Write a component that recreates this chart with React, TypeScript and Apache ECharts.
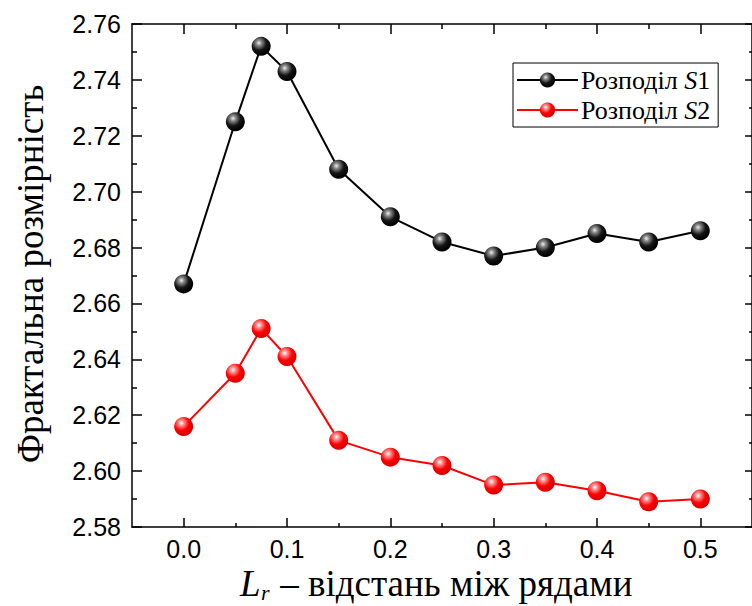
import React, { useEffect, useRef } from "react";
import * as echarts from "echarts";

const xValues = [0, 0.05, 0.075, 0.1, 0.15, 0.2, 0.25, 0.3, 0.35, 0.4, 0.45, 0.5];
const s1Values = [2.667, 2.725, 2.752, 2.743, 2.708, 2.691, 2.682, 2.677, 2.680, 2.685, 2.682, 2.686];
const s2Values = [2.616, 2.635, 2.651, 2.641, 2.611, 2.605, 2.602, 2.595, 2.596, 2.593, 2.589, 2.590];
const xMajorTicks = [0, 0.1, 0.2, 0.3, 0.4, 0.5];
const xMinorTicks = [0.05, 0.15, 0.25, 0.35, 0.45];
const seriesNames = ["Розподіл S1", "Розподіл S2"];

const SERIF = '"Liberation Serif", "Times New Roman", serif';
const SANS = '"Liberation Sans", Arial, sans-serif';

export default function App() {
  const ref = useRef<HTMLDivElement>(null);
  useEffect(() => {
    if (!ref.current) return;
    const chart = echarts.init(ref.current, undefined, { renderer: "svg" });
    const blackBall = new echarts.graphic.RadialGradient(0.38, 0.32, 0.65, [
      { offset: 0, color: "#f0f0f0" },
      { offset: 0.22, color: "#8a8a8a" },
      { offset: 0.6, color: "#151515" },
      { offset: 1, color: "#000000" },
    ]);
    const redBall = new echarts.graphic.RadialGradient(0.38, 0.32, 0.65, [
      { offset: 0, color: "#ffffff" },
      { offset: 0.22, color: "#ff9090" },
      { offset: 0.6, color: "#ff0000" },
      { offset: 1, color: "#d80000" },
    ]);
    const baseX = {
      type: "value" as const,
      min: -0.05,
      max: 0.55,
      splitLine: { show: false },
    };
    const axisLine = { show: true, onZero: false, lineStyle: { color: "#000", width: 1.5 } };
    chart.setOption({
      animation: false,
      grid: { left: 132, top: 24, right: -3, bottom: 79, containLabel: false },
      xAxis: [
        {
          ...baseX,
          position: "bottom",
          axisLine,
          axisTick: { show: true, inside: true, length: 9, customValues: xMajorTicks, lineStyle: { color: "#000", width: 1.5 } },
          axisLabel: {
            customValues: xMajorTicks,
            margin: 9,
            fontFamily: SANS,
            fontSize: 25,
            color: "#000",
            formatter: (v: number) => v.toFixed(1),
          },
        },
        {
          ...baseX,
          position: "bottom",
          axisLine: { show: false },
          axisTick: { show: true, inside: true, length: 4, customValues: xMinorTicks, lineStyle: { color: "#000", width: 1.5 } },
          axisLabel: { show: false },
        },
        {
          ...baseX,
          position: "top",
          axisLine,
          axisTick: { show: true, inside: true, length: 10, customValues: xMajorTicks, lineStyle: { color: "#000", width: 1.5 } },
          axisLabel: { show: false },
        },
        {
          ...baseX,
          position: "top",
          axisLine: { show: false },
          axisTick: { show: true, inside: true, length: 5, customValues: xMinorTicks, lineStyle: { color: "#000", width: 1.5 } },
          axisLabel: { show: false },
        },
      ],
      yAxis: [
        {
          type: "value",
          position: "left",
          min: 2.58,
          max: 2.76,
          interval: 0.02,
          splitLine: { show: false },
          axisLine,
          axisTick: { show: true, inside: true, length: 10, lineStyle: { color: "#000", width: 1.5 } },
          minorTick: { show: true, splitNumber: 2, length: 5, lineStyle: { color: "#000", width: 1.5 } },
          minorSplitLine: { show: false },
          axisLabel: {
            margin: 11,
            fontFamily: SANS,
            fontSize: 25,
            color: "#000",
            formatter: (v: number) => v.toFixed(2),
          },
        },
        {
          type: "value",
          position: "right",
          min: 2.58,
          max: 2.76,
          interval: 0.02,
          splitLine: { show: false },
          axisLine,
          axisTick: { show: true, inside: true, length: 7, lineStyle: { color: "#000", width: 1.5 } },
          minorTick: { show: true, splitNumber: 2, length: 3, lineStyle: { color: "#000", width: 1.5 } },
          minorSplitLine: { show: false },
          axisLabel: { show: false },
        },
      ],
      legend: {
        orient: "vertical",
        left: 513,
        top: 63,
        width: 208,
        padding: [4, 8, 4, 3],
        itemGap: 4,
        itemWidth: 61,
        itemHeight: 19,
        borderColor: "#000",
        borderWidth: 1,
        borderRadius: 0,
        backgroundColor: "#fff",
        data: seriesNames,
        formatter: (name: string) =>
          "{a|Розподіл }{b|S}{a|" + name.slice(-1) + "}",
        textStyle: {
          padding: [0, 0, 0, -2],
          rich: {
            a: { fontFamily: SERIF, fontSize: 26, color: "#000", lineHeight: 28 },
            b: { fontFamily: SERIF, fontSize: 26, fontStyle: "italic", color: "#000", lineHeight: 28 },
          },
        },
      },
      graphic: [
        {
          type: "text",
          x: 30,
          y: 274,
          rotation: Math.PI / 2,
          style: {
            text: "Фрактальна розмірність",
            font: "37px " + SERIF,
            fill: "#000",
            align: "center",
            verticalAlign: "middle",
          },
        },
        {
          type: "text",
          x: 240,
          y: 583,
          style: {
            text: "L",
            font: "italic 37px " + SERIF,
            fill: "#000",
            align: "left",
            verticalAlign: "middle",
          },
        },
        {
          type: "text",
          x: 261,
          y: 592,
          style: {
            text: "r",
            font: "italic 22px " + SERIF,
            fill: "#000",
            align: "left",
            verticalAlign: "middle",
          },
        },
        {
          type: "text",
          x: 271,
          y: 583,
          style: {
            text: " – відстань між рядами",
            font: "37px " + SERIF,
            fill: "#000",
            align: "left",
            verticalAlign: "middle",
          },
        },
      ],
      series: [
        {
          name: seriesNames[0],
          type: "line",
          xAxisIndex: 0,
          yAxisIndex: 0,
          data: xValues.map((x, i) => [x, s1Values[i]]),
          symbol: "circle",
          symbolSize: 19,
          lineStyle: { color: "#000", width: 2 },
          itemStyle: { color: blackBall, borderWidth: 0 },
          z: 3,
        },
        {
          name: seriesNames[1],
          type: "line",
          xAxisIndex: 0,
          yAxisIndex: 0,
          data: xValues.map((x, i) => [x, s2Values[i]]),
          symbol: "circle",
          symbolSize: 19,
          lineStyle: { color: "#ff0000", width: 2 },
          itemStyle: { color: redBall, borderWidth: 0 },
          z: 3,
        },
      ],
    });
    return () => chart.dispose();
  }, []);
  return (
    <div
      ref={ref}
      style={{ position: "fixed", left: 0, top: 0, width: 752, height: 606, background: "#fff" }}
    />
  );
}
